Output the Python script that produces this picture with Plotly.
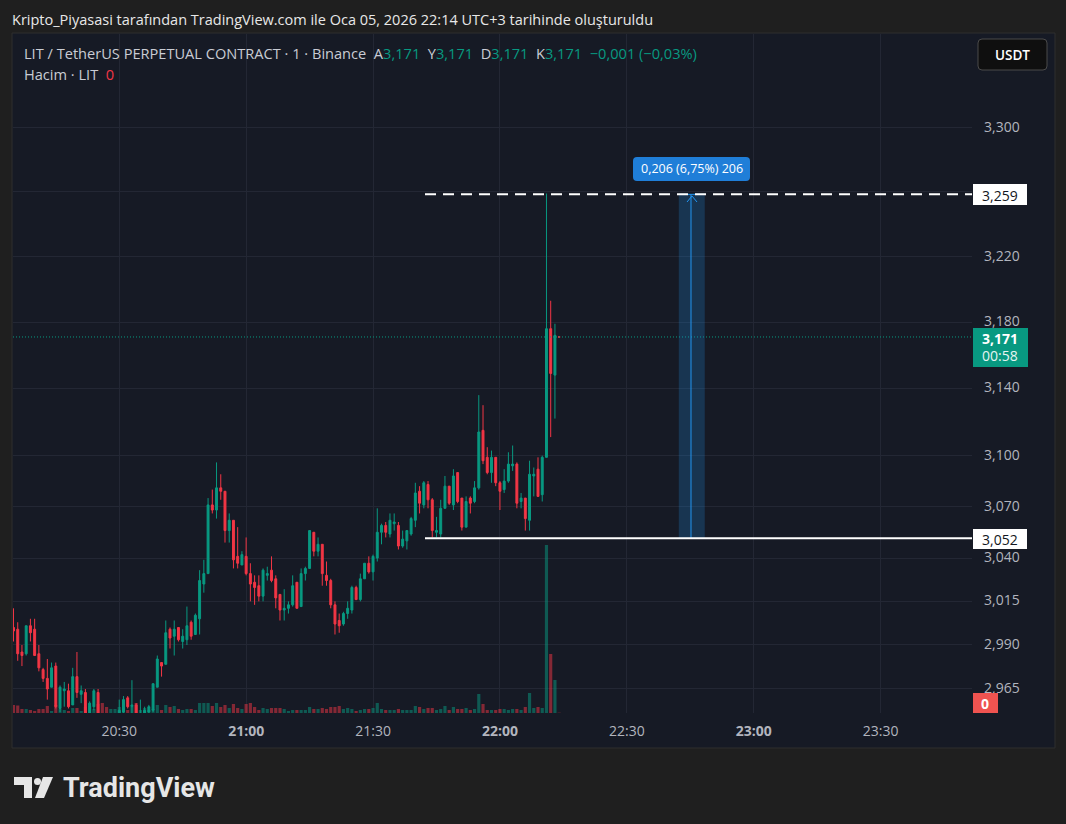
import math
import pandas as pd
import plotly.graph_objects as go

# ---------------- data (1-minute candles, LIT/USDT perpetual) ----------------
start_time = "2026-01-05 20:05"

open_ = [3.000, 2.999, 2.986, 2.985, 3.001, 2.999, 2.985, 2.976, 2.971, 2.966,
         2.978, 2.954, 2.964, 2.964, 2.956, 2.972, 2.962, 2.963, 2.947, 2.955,
         2.963, 2.946, 2.941, 2.938, 2.942, 2.948, 2.952, 2.960, 2.955, 2.956,
         2.946, 2.949, 2.952, 2.953, 2.966, 2.980, 2.979, 2.999, 2.995, 3.000,
         2.992, 2.993, 3.003, 2.996, 3.005, 3.025, 3.031, 3.071, 3.068, 3.081,
         3.079, 3.056, 3.062, 3.041, 3.036, 3.041, 3.031, 3.026, 3.024, 3.018,
         3.030, 3.033, 3.028, 3.019, 3.010, 3.011, 3.013, 3.026, 3.012, 3.031,
         3.034, 3.055, 3.044, 3.048, 3.030, 3.027, 3.013, 3.004, 3.002, 3.008,
         3.010, 3.023, 3.016, 3.028, 3.037, 3.032, 3.040, 3.055, 3.059, 3.054,
         3.060, 3.059, 3.047, 3.050, 3.054, 3.062, 3.079, 3.071, 3.083, 3.074,
         3.055, 3.054, 3.069, 3.082, 3.071, 3.090, 3.075, 3.058, 3.075, 3.073,
         3.081, 3.115, 3.099, 3.090, 3.099, 3.084, 3.080, 3.085, 3.094, 3.095,
         3.073, 3.075, 3.062, 3.088, 3.092, 3.077, 3.099, 3.176, 3.148, 3.171]

high = [3.011, 3.003, 2.990, 3.001, 3.005, 3.005, 2.990, 2.977, 2.982, 2.980,
        2.980, 2.967, 2.969, 2.968, 2.977, 2.986, 2.967, 2.965, 2.958, 2.965,
        2.965, 2.948, 2.944, 2.946, 2.949, 2.959, 2.961, 2.961, 2.970, 2.957,
        2.959, 2.955, 2.956, 2.968, 2.984, 2.980, 3.004, 3.000, 3.004, 3.000,
        2.999, 3.012, 3.004, 3.008, 3.033, 3.039, 3.075, 3.080, 3.096, 3.089,
        3.079, 3.066, 3.062, 3.058, 3.044, 3.052, 3.037, 3.030, 3.030, 3.034,
        3.035, 3.041, 3.030, 3.019, 3.022, 3.015, 3.030, 3.026, 3.034, 3.035,
        3.056, 3.055, 3.052, 3.048, 3.038, 3.028, 3.015, 3.008, 3.009, 3.015,
        3.024, 3.024, 3.031, 3.037, 3.041, 3.042, 3.069, 3.060, 3.061, 3.066,
        3.066, 3.061, 3.056, 3.056, 3.064, 3.084, 3.082, 3.085, 3.085, 3.075,
        3.064, 3.074, 3.088, 3.082, 3.092, 3.090, 3.075, 3.076, 3.076, 3.085,
        3.136, 3.130, 3.105, 3.103, 3.099, 3.085, 3.092, 3.102, 3.106, 3.096,
        3.078, 3.075, 3.097, 3.093, 3.099, 3.100, 3.259, 3.193, 3.179, 3.171]

low = [2.992, 2.981, 2.978, 2.984, 2.992, 2.984, 2.975, 2.969, 2.959, 2.966,
       2.954, 2.952, 2.955, 2.954, 2.956, 2.960, 2.957, 2.946, 2.944, 2.953,
       2.943, 2.938, 2.935, 2.936, 2.940, 2.946, 2.950, 2.954, 2.949, 2.946,
       2.943, 2.947, 2.949, 2.952, 2.966, 2.972, 2.979, 2.988, 2.984, 2.992,
       2.988, 2.990, 2.993, 2.996, 2.996, 3.020, 3.031, 3.066, 3.063, 3.074,
       3.049, 3.049, 3.034, 3.034, 3.036, 3.030, 3.015, 3.013, 3.015, 3.015,
       3.027, 3.026, 3.011, 3.004, 3.004, 3.008, 3.012, 3.011, 3.012, 3.027,
       3.034, 3.041, 3.041, 3.024, 3.024, 3.011, 2.996, 2.997, 3.001, 3.005,
       3.008, 3.016, 3.015, 3.028, 3.031, 3.027, 3.038, 3.048, 3.052, 3.052,
       3.056, 3.045, 3.046, 3.045, 3.053, 3.058, 3.066, 3.069, 3.069, 3.052,
       3.052, 3.052, 3.069, 3.071, 3.068, 3.072, 3.056, 3.058, 3.066, 3.072,
       3.080, 3.095, 3.089, 3.084, 3.082, 3.068, 3.078, 3.084, 3.091, 3.069,
       3.069, 3.056, 3.056, 3.076, 3.076, 3.073, 3.099, 3.111, 3.122, 3.171]

close = [2.998, 2.985, 2.984, 3.001, 2.997, 2.984, 2.977, 2.971, 2.965, 2.977,
         2.955, 2.966, 2.965, 2.955, 2.972, 2.963, 2.964, 2.948, 2.957, 2.964,
         2.947, 2.941, 2.938, 2.943, 2.948, 2.953, 2.959, 2.955, 2.956, 2.948,
         2.950, 2.953, 2.955, 2.968, 2.982, 2.978, 2.997, 2.994, 2.999, 2.993,
         2.995, 3.001, 2.995, 3.007, 3.027, 3.031, 3.071, 3.068, 3.081, 3.079,
         3.056, 3.062, 3.039, 3.037, 3.042, 3.031, 3.025, 3.023, 3.018, 3.033,
         3.031, 3.027, 3.017, 3.010, 3.011, 3.013, 3.024, 3.011, 3.031, 3.034,
         3.056, 3.044, 3.048, 3.031, 3.027, 3.013, 3.002, 3.001, 3.008, 3.011,
         3.023, 3.016, 3.028, 3.037, 3.032, 3.041, 3.055, 3.059, 3.055, 3.062,
         3.061, 3.047, 3.051, 3.056, 3.063, 3.078, 3.072, 3.084, 3.074, 3.056,
         3.056, 3.069, 3.082, 3.072, 3.088, 3.073, 3.058, 3.073, 3.072, 3.081,
         3.114, 3.097, 3.090, 3.099, 3.084, 3.079, 3.085, 3.095, 3.095, 3.072,
         3.075, 3.063, 3.089, 3.089, 3.076, 3.099, 3.176, 3.149, 3.172, 3.171]

volume = [8000, 7500, 4000, 4000, 3000, 2000, 4000, 4000, 7000, 2000,
          8000, 4000, 3000, 2000, 5000, 5000, 2000, 6000, 7000, 4000,
          9000, 10000, 6000, 4000, 4000, 6000, 5000, 3000, 6000, 10000,
          3000, 5000, 3000, 4000, 8000, 3000, 8000, 6000, 7000, 4000,
          3000, 4000, 4000, 3000, 10000, 10000, 10000, 7000, 10000, 6000,
          8000, 5000, 9000, 5000, 4000, 9000, 10000, 6000, 3000, 5000,
          4000, 5000, 5000, 5000, 4000, 2000, 3000, 3000, 3000, 3000,
          6000, 4000, 4000, 5000, 4000, 6000, 6000, 7000, 4000, 5000,
          4000, 2000, 3000, 4000, 4000, 5000, 10000, 4000, 3000, 3000,
          3000, 4000, 3000, 3000, 3000, 7000, 6000, 4000, 5000, 5000,
          3000, 4000, 7000, 3000, 6000, 4000, 4000, 5000, 3000, 4000,
          19000, 9000, 3000, 3000, 3000, 4000, 4000, 3000, 4000, 4000,
          3000, 6000, 20000, 5000, 6000, 5000, 168000, 59000, 33000, 300]

price_ticks = [2.965, 2.990, 3.015, 3.040, 3.070, 3.100, 3.140, 3.180, 3.220, 3.260, 3.300]
price_tick_text = ["2,965", "2,990", "3,015", "3,040", "3,070", "3,100", "3,140", "3,180", "3,220", "", "3,300"]
time_ticks = ["2026-01-05 20:30", "2026-01-05 21:00", "2026-01-05 21:30", "2026-01-05 22:00",
              "2026-01-05 22:30", "2026-01-05 23:00", "2026-01-05 23:30"]
time_tick_text = ["20:30", "<b>21:00</b>", "21:30", "<b>22:00</b>", "22:30", "<b>23:00</b>", "23:30"]

last_price = 3.171
line_high = 3.2585
line_low = 3.0515
lines_start = "2026-01-05 21:42:17"
measure_x0 = "2026-01-05 22:42:17"
measure_x1 = "2026-01-05 22:48:25"
measure_mid = "2026-01-05 22:45:10"
x_range = ["2026-01-05 20:04:53", "2026-01-05 23:51:36"]
y_range_prices = [2.95145, 3.35972]

# ---------------- styling ----------------
UP = "#089981"
DOWN = "#f23645"
PANE = "#161a25"
OUTER = "#1f1f1f"
GRID = "#232734"
TXT = "#b2b5be"
FONT = "'Open Sans', Roboto, sans-serif"

W, H = 1066, 824
L, R, T, B = 13, 972, 34, 713
PW, PH = R - L, B - T


def px(x):
    return (x - L) / PW


def py(y):
    return (B - y) / PH


def rrect(x0, y0, x1, y1, r):
    a, b, c, d = px(x0), px(x1), py(y0), py(y1)
    rx, ry = r / PW, r / PH
    return (f"M{a + rx},{c} L{b - rx},{c} Q{b},{c} {b},{c - ry} L{b},{d + ry} "
            f"Q{b},{d} {b - rx},{d} L{a + rx},{d} Q{a},{d} {a},{d + ry} "
            f"L{a},{c - ry} Q{a},{c} {a + rx},{c} Z")


times = pd.date_range(start_time, periods=len(open_), freq="min")
vol_colors = ["rgba(8,153,129,0.5)" if c > o else "rgba(242,54,69,0.5)"
              for o, c in zip(open_, close)]

fig = go.Figure()
fig.add_trace(go.Bar(x=times, y=volume, marker_color=vol_colors, marker_line_width=0,
                     width=45000, yaxis="y2", hoverinfo="skip", showlegend=False))
fig.add_trace(go.Candlestick(
    x=times, open=open_, high=high, low=low, close=close,
    increasing=dict(line=dict(color=UP, width=1), fillcolor=UP),
    decreasing=dict(line=dict(color=DOWN, width=1), fillcolor=DOWN),
    whiskerwidth=0, showlegend=False, hoverinfo="skip"))

shapes = []
# chart pane
shapes.append(dict(type="rect", xref="paper", yref="paper", x0=px(12), x1=px(1055), y0=py(748), y1=py(33),
                   fillcolor=PANE, line=dict(color="#2e2e2e", width=1), layer="below"))
# current price dotted line
shapes.append(dict(type="line", xref="paper", yref="y", x0=0, x1=1, y0=last_price, y1=last_price,
                   line=dict(color=UP, width=1, dash="1px,2px")))
# measure rectangle
shapes.append(dict(type="rect", xref="x", yref="y", x0=measure_x0, x1=measure_x1, y0=line_low, y1=line_high,
                   fillcolor="rgba(33,150,243,0.22)", line=dict(width=0)))
shapes.append(dict(type="line", xref="x", yref="y", x0=measure_x0, x1=measure_x1, y0=line_high, y1=line_high,
                   line=dict(color="#2196f3", width=1)))
shapes.append(dict(type="line", xref="x", yref="y", x0=measure_mid, x1=measure_mid, y0=line_low, y1=line_high,
                   line=dict(color="#2196f3", width=1)))
shapes.append(dict(type="line", xref="paper", yref="paper", x0=px(687), x1=px(692), y0=py(202), y1=py(196),
                   line=dict(color="#2196f3", width=1)))
shapes.append(dict(type="line", xref="paper", yref="paper", x0=px(697), x1=px(692), y0=py(202), y1=py(196),
                   line=dict(color="#2196f3", width=1)))
# horizontal user lines
shapes.append(dict(type="line", xref="x", yref="y", x0=lines_start, x1=x_range[1], y0=line_high, y1=line_high,
                   line=dict(color="#ffffff", width=2, dash="11px,7px")))
shapes.append(dict(type="line", xref="x", yref="y", x0=lines_start, x1=x_range[1], y0=line_low, y1=line_low,
                   line=dict(color="#ffffff", width=2)))
# measure label box
shapes.append(dict(type="path", xref="paper", yref="paper", path=rrect(633, 157, 750, 181, 4),
                   fillcolor="#1f7ed8", line=dict(width=0)))
# price-scale labels
shapes.append(dict(type="rect", xref="paper", yref="paper", x0=px(973), x1=px(1027), y0=py(205), y1=py(184),
                   fillcolor="#ffffff", line=dict(width=0)))
shapes.append(dict(type="rect", xref="paper", yref="paper", x0=px(973), x1=px(1027), y0=py(549), y1=py(529),
                   fillcolor="#ffffff", line=dict(width=0)))
shapes.append(dict(type="rect", xref="paper", yref="paper", x0=px(973), x1=px(1028), y0=py(367), y1=py(328),
                   fillcolor=UP, line=dict(width=0)))
shapes.append(dict(type="rect", xref="paper", yref="paper", x0=px(973), x1=px(998), y0=py(713), y1=py(693),
                   fillcolor="#ef5350", line=dict(width=0)))
# currency button
shapes.append(dict(type="path", xref="paper", yref="paper", path=rrect(978, 39, 1047, 70, 4),
                   fillcolor="#0f0f0f", line=dict(color="#4a4a4a", width=1)))
# TradingView logo
shapes.append(dict(type="path", xref="paper", yref="paper",
                   path=f"M{px(14)},{py(777)} L{px(32)},{py(777)} L{px(32)},{py(798)} L{px(24)},{py(798)} "
                        f"L{px(24)},{py(785)} L{px(14)},{py(785)} Z",
                   fillcolor="#e6e6e6", line=dict(width=0)))
shapes.append(dict(type="circle", xref="paper", yref="paper", x0=px(34), x1=px(41), y0=py(785), y1=py(778),
                   fillcolor="#e6e6e6", line=dict(width=0)))
shapes.append(dict(type="path", xref="paper", yref="paper",
                   path=f"M{px(43)},{py(777)} L{px(53)},{py(777)} L{px(44)},{py(798)} L{px(35)},{py(798)} Z",
                   fillcolor="#e6e6e6", line=dict(width=0)))

G = "color:#089981"
legend1 = ("LIT / TetherUS PERPETUAL CONTRACT · 1 · Binance\u00a0\u00a0"
           f"A<span style='{G}'>3,171</span>\u00a0\u00a0Y<span style='{G}'>3,171</span>\u00a0\u00a0"
           f"D<span style='{G}'>3,171</span>\u00a0\u00a0K<span style='{G}'>3,171</span>\u00a0\u00a0"
           f"<span style='{G}'>−0,001 (−0,03%)</span>")
legend2 = "Hacim · LIT\u00a0\u00a0<span style='color:#f23645'>0</span>"

ann = []


def add_text(x, y, text, size=14, color=TXT, anchor="left", weight="normal", family=FONT):
    ann.append(dict(xref="paper", yref="paper", x=px(x), y=py(y), text=text, showarrow=False,
                    xanchor=anchor, yanchor="middle", align=anchor,
                    font=dict(family=family, size=size, color=color, weight=weight)))


add_text(10, 19, "Kripto_Piyasasi tarafından TradingView.com ile Oca 05, 2026 22:14 UTC+3 tarihinde oluşturuldu",
         size=14.5, color="#e8e8e8")
add_text(22, 53, legend1, size=14.6, color="#c9ccd4")
add_text(22, 74, legend2, size=14.6, color="#c9ccd4")
add_text(1000, 195, "3,259", size=14, color="#131722", anchor="center")
add_text(1000, 539, "3,052", size=14, color="#131722", anchor="center")
add_text(1000, 338, "3,171", size=14, color="#ffffff", anchor="center", weight="bold")
add_text(1000, 355, "00:58", size=14, color="#e6f4f1", anchor="center")
add_text(985.5, 703, "0", size=14, color="#ffffff", anchor="center", weight="bold")
add_text(1012.5, 55, "USDT", size=13.5, color="#ffffff", anchor="center", weight=600)
add_text(691.5, 169, "0,206 (6,75%) 206", size=12.5, color="#ffffff", anchor="center")
add_text(61, 788, "TradingView", size=27, color="#e6e6e6", weight="bold", family="Roboto, sans-serif")

fig.update_layout(
    width=W, height=H,
    margin=dict(l=L, r=W - R, t=T, b=H - B, pad=0),
    paper_bgcolor=OUTER, plot_bgcolor=PANE,
    showlegend=False, boxgap=0.35,
    font=dict(family=FONT, color=TXT, size=14),
    shapes=shapes, annotations=ann,
    xaxis=dict(type="date", range=x_range, rangeslider=dict(visible=False),
               tickvals=time_ticks, ticktext=time_tick_text, showgrid=True, gridcolor=GRID,
               gridwidth=1, zeroline=False, showline=False, ticks="", ticklabelstandoff=8,
               tickfont=dict(size=14, color=TXT)),
    yaxis=dict(type="log", side="right", range=[math.log10(v) for v in y_range_prices],
               tickvals=price_ticks, ticktext=price_tick_text, showgrid=True, gridcolor=GRID,
               gridwidth=1, zeroline=False, showline=False, ticks="", ticklabelstandoff=11,
               ticklabelshift=-1, tickfont=dict(size=14, color=TXT)),
    yaxis2=dict(overlaying="y", range=[0, max(volume) * PH / 168], visible=False, showgrid=False),
)

fig.write_html("out.html", config={"displayModeBar": False},
               post_script="document.body.style.margin='0';")
